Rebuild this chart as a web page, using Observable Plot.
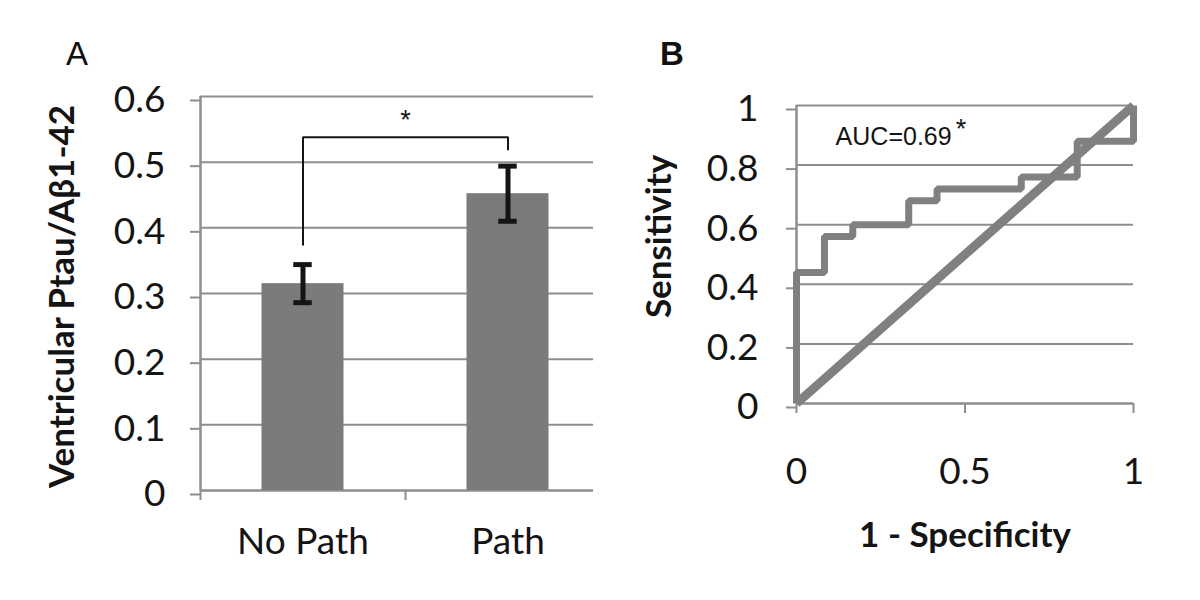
<!DOCTYPE html>
<html><head><meta charset="utf-8">
<script src="https://cdn.jsdelivr.net/npm/d3@7"></script>
<script src="https://cdn.jsdelivr.net/npm/@observablehq/plot@0.6"></script>
<style>
html,body{margin:0;padding:0;background:#fff;}
#wrap{position:relative;width:1200px;height:600px;overflow:hidden;background:#fff;}
.panel{position:absolute;top:0;}
.plab{position:absolute;font-family:"Liberation Sans",Arial,sans-serif;font-size:33px;color:#111;line-height:1;}
</style></head><body>
<div id="wrap">
<div class="panel" id="pa" style="left:0"></div>
<div class="panel" id="pb" style="left:620px"></div>
<div class="plab" style="left:66px;top:37px;">A</div>
<div class="plab" style="left:660px;top:37px;font-weight:bold;">B</div>
</div>
<script>
// ---- Panel A data ----
const categories = ["No Path", "Path"];
const means = [0.315, 0.452];
const sems = [0.029, 0.042];
const yTicksA = [0, 0.1, 0.2, 0.3, 0.4, 0.5, 0.6];
const bracketLevel = 0.538;
const bracketFeet = [0.373, 0.518];
const sigMark = "*";
const yLabelA = "Ventricular Ptau/Aβ1-42";

// ---- Panel B data ----
const rocFpr = [0, 0, 0.083, 0.167, 0.333, 0.417, 0.667, 0.833, 1];
const rocTpr = [0, 0.44, 0.56, 0.60, 0.68, 0.72, 0.76, 0.88, 1];
const chanceX = [0, 1];
const chanceY = [0, 1];
const yTicksB = [0, 0.2, 0.4, 0.6, 0.8, 1];
const xTicksB = [0, 0.5, 1];
const auc = 0.69;
const yLabelB = "Sensitivity";
const xLabelB = "1 - Specificity";

const barGray = "#7b7b7b";
const lineGray = "#808080";
const gridC = "#8e8e8e";
const ink = "#141414";
const sans = "Lato, 'Open Sans', sans-serif";
const arial = "'Liberation Sans', Arial, sans-serif";
const fmt = d => `${d}`;

const barData = categories.map((c, i) => ({c, i, m: means[i], e: sems[i]}));
const bracket = [
  {x: 0.5, y: bracketFeet[0]},
  {x: 0.5, y: bracketLevel},
  {x: 1.5, y: bracketLevel},
  {x: 1.5, y: bracketFeet[1]}
];

const A = Plot.plot({
  width: 620, height: 600,
  marginLeft: 200, marginRight: 27, marginTop: 96, marginBottom: 110,
  x: {domain: [0, 2], range: [200, 610], axis: null},
  y: {domain: [0, 0.6], axis: null},
  style: {fontFamily: sans, fontSize: "37px", color: ink, background: "#fff", overflow: "visible"},
  marks: [
    Plot.ruleY(yTicksA.filter(v => v > 0), {stroke: gridC, strokeWidth: 2}),
    Plot.ruleY([0], {stroke: gridC, strokeWidth: 2.5}),
    Plot.ruleX([0], {stroke: gridC, strokeWidth: 2.5}),
    Plot.axisY({ticks: yTicksA, tickSize: 10, tickPadding: 25, tickFormat: fmt, label: null, stroke: gridC, strokeWidth: 2, fill: ink, fontSize: 37, dy: 4}),
    Plot.axisX({ticks: [0, 1], tickSize: 10, tickFormat: () => "", label: null, stroke: gridC, strokeWidth: 2}),
    Plot.rectY(barData, {x1: d => d.i + 0.3, x2: d => d.i + 0.7, y1: 0, y2: "m", fill: barGray}),
    Plot.ruleX(barData, {x: d => d.i + 0.5, y1: d => d.m - d.e, y2: d => d.m + d.e, stroke: ink, strokeWidth: 5}),
    Plot.ruleY(barData, {x1: d => d.i + 0.455, x2: d => d.i + 0.545, y: d => d.m - d.e, stroke: ink, strokeWidth: 5}),
    Plot.ruleY(barData, {x1: d => d.i + 0.455, x2: d => d.i + 0.545, y: d => d.m + d.e, stroke: ink, strokeWidth: 5}),
    Plot.line(bracket, {x: "x", y: "y", stroke: ink, strokeWidth: 2, strokeLinejoin: "miter", strokeLinecap: "butt"}),
    Plot.text([sigMark], {x: 1, y: 0.564, text: d => d, fontSize: 27, fontFamily: arial, fill: ink}),
    Plot.text(barData, {x: d => d.i + 0.5, text: "c", frameAnchor: "bottom", dy: 63, fontSize: 37, fill: ink}),
    Plot.text([yLabelA], {text: d => d, frameAnchor: "left", textAnchor: "middle", dx: -138, dy: 3, rotate: -90, fontSize: 35, fontWeight: "bold", fill: ink})
  ]
});
document.getElementById("pa").appendChild(A);

const roc = rocFpr.map((x, i) => ({x, y: rocTpr[i]}));
const chance = chanceX.map((x, i) => ({x, y: chanceY[i]}));

const B = Plot.plot({
  width: 580, height: 600,
  marginLeft: 176, marginRight: 67, marginTop: 105, marginBottom: 197,
  x: {domain: [0, 1], axis: null},
  y: {domain: [0, 1], axis: null},
  style: {fontFamily: sans, fontSize: "37px", color: ink, background: "#fff", overflow: "visible"},
  marks: [
    Plot.ruleY(yTicksB.filter(v => v > 0), {stroke: gridC, strokeWidth: 2}),
    Plot.ruleY([0], {stroke: gridC, strokeWidth: 2.5}),
    Plot.ruleX([0], {stroke: gridC, strokeWidth: 2.5}),
    Plot.axisY({ticks: yTicksB, tickSize: 10, tickPadding: 28, tickFormat: fmt, label: null, stroke: gridC, strokeWidth: 2, fill: ink, fontSize: 37, dy: 4}),
    Plot.axisX({ticks: xTicksB, tickSize: 10, tickPadding: 44, tickFormat: fmt, label: null, stroke: gridC, strokeWidth: 2, fill: ink, fontSize: 37}),
    Plot.line(roc, {x: "x", y: "y", curve: "step-after", stroke: lineGray, strokeWidth: 7, strokeLinejoin: "miter", strokeLinecap: "butt"}),
    Plot.line(chance, {x: "x", y: "y", stroke: lineGray, strokeWidth: 9, strokeLinecap: "butt"}),
    Plot.text([auc], {x: 0.116, y: 0.894, text: d => `AUC=${d}`, textAnchor: "start", fontSize: 25, fontFamily: arial, fill: ink}),
    Plot.text([sigMark], {x: 0.488, y: 0.92, text: d => d, fontSize: 27, fontFamily: arial, fill: ink}),
    Plot.text([yLabelB], {text: d => d, frameAnchor: "left", textAnchor: "middle", dx: -137, dy: -18, rotate: -90, fontSize: 35, fontWeight: "bold", fill: ink}),
    Plot.text([xLabelB], {text: d => d, frameAnchor: "bottom", dy: 143, fontSize: 35, fontWeight: "bold", fill: ink})
  ]
});
document.getElementById("pb").appendChild(B);
</script>
</body></html>
